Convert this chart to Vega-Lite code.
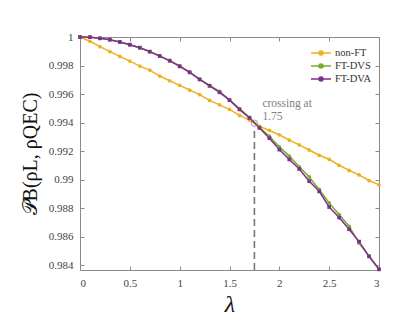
{
  "$schema": "https://vega.github.io/schema/vega-lite/v6.json",
  "width": 299,
  "height": 233,
  "autosize": {"type": "none"},
  "padding": {"left": 80, "top": 37, "right": 16, "bottom": 59},
  "background": "white",
  "datasets": {
    "curves": [
      {"lambda": 0.0, "series": "non-FT", "value": 1.0},
      {"lambda": 0.1, "series": "non-FT", "value": 0.9997},
      {"lambda": 0.2, "series": "non-FT", "value": 0.99932},
      {"lambda": 0.3, "series": "non-FT", "value": 0.99897},
      {"lambda": 0.4, "series": "non-FT", "value": 0.99864},
      {"lambda": 0.5, "series": "non-FT", "value": 0.99831},
      {"lambda": 0.6, "series": "non-FT", "value": 0.99796},
      {"lambda": 0.7, "series": "non-FT", "value": 0.99768},
      {"lambda": 0.8, "series": "non-FT", "value": 0.99726},
      {"lambda": 0.9, "series": "non-FT", "value": 0.99693},
      {"lambda": 1.0, "series": "non-FT", "value": 0.99661},
      {"lambda": 1.1, "series": "non-FT", "value": 0.99628},
      {"lambda": 1.2, "series": "non-FT", "value": 0.99596},
      {"lambda": 1.3, "series": "non-FT", "value": 0.99555},
      {"lambda": 1.4, "series": "non-FT", "value": 0.99524},
      {"lambda": 1.5, "series": "non-FT", "value": 0.99492},
      {"lambda": 1.6, "series": "non-FT", "value": 0.9945},
      {"lambda": 1.7, "series": "non-FT", "value": 0.99417},
      {"lambda": 1.8, "series": "non-FT", "value": 0.99375},
      {"lambda": 1.9, "series": "non-FT", "value": 0.99344},
      {"lambda": 2.0, "series": "non-FT", "value": 0.99314},
      {"lambda": 2.1, "series": "non-FT", "value": 0.99276},
      {"lambda": 2.2, "series": "non-FT", "value": 0.99243},
      {"lambda": 2.3, "series": "non-FT", "value": 0.99207},
      {"lambda": 2.4, "series": "non-FT", "value": 0.9917},
      {"lambda": 2.5, "series": "non-FT", "value": 0.99142},
      {"lambda": 2.6, "series": "non-FT", "value": 0.991},
      {"lambda": 2.7, "series": "non-FT", "value": 0.99064},
      {"lambda": 2.8, "series": "non-FT", "value": 0.99032},
      {"lambda": 2.9, "series": "non-FT", "value": 0.98993},
      {"lambda": 3.0, "series": "non-FT", "value": 0.98962},
      {"lambda": 0.0, "series": "FT-DVS", "value": 1.0},
      {"lambda": 0.1, "series": "FT-DVS", "value": 0.99999},
      {"lambda": 0.2, "series": "FT-DVS", "value": 0.99991},
      {"lambda": 0.3, "series": "FT-DVS", "value": 0.99981},
      {"lambda": 0.4, "series": "FT-DVS", "value": 0.99965},
      {"lambda": 0.5, "series": "FT-DVS", "value": 0.99946},
      {"lambda": 0.6, "series": "FT-DVS", "value": 0.99925},
      {"lambda": 0.7, "series": "FT-DVS", "value": 0.99898},
      {"lambda": 0.8, "series": "FT-DVS", "value": 0.99867},
      {"lambda": 0.9, "series": "FT-DVS", "value": 0.99836},
      {"lambda": 1.0, "series": "FT-DVS", "value": 0.99798},
      {"lambda": 1.1, "series": "FT-DVS", "value": 0.99755},
      {"lambda": 1.2, "series": "FT-DVS", "value": 0.99705},
      {"lambda": 1.3, "series": "FT-DVS", "value": 0.9966},
      {"lambda": 1.4, "series": "FT-DVS", "value": 0.99618},
      {"lambda": 1.5, "series": "FT-DVS", "value": 0.9956},
      {"lambda": 1.6, "series": "FT-DVS", "value": 0.99497},
      {"lambda": 1.7, "series": "FT-DVS", "value": 0.99436},
      {"lambda": 1.8, "series": "FT-DVS", "value": 0.99367},
      {"lambda": 1.9, "series": "FT-DVS", "value": 0.99304},
      {"lambda": 2.0, "series": "FT-DVS", "value": 0.99229},
      {"lambda": 2.1, "series": "FT-DVS", "value": 0.99164},
      {"lambda": 2.2, "series": "FT-DVS", "value": 0.99089},
      {"lambda": 2.3, "series": "FT-DVS", "value": 0.99018},
      {"lambda": 2.4, "series": "FT-DVS", "value": 0.9893},
      {"lambda": 2.5, "series": "FT-DVS", "value": 0.98836},
      {"lambda": 2.6, "series": "FT-DVS", "value": 0.98754},
      {"lambda": 2.7, "series": "FT-DVS", "value": 0.98672},
      {"lambda": 2.8, "series": "FT-DVS", "value": 0.98554},
      {"lambda": 2.9, "series": "FT-DVS", "value": 0.98461},
      {"lambda": 3.0, "series": "FT-DVS", "value": 0.9837},
      {"lambda": 0.0, "series": "FT-DVA", "value": 1.0},
      {"lambda": 0.1, "series": "FT-DVA", "value": 0.99999},
      {"lambda": 0.2, "series": "FT-DVA", "value": 0.99991},
      {"lambda": 0.3, "series": "FT-DVA", "value": 0.99981},
      {"lambda": 0.4, "series": "FT-DVA", "value": 0.99965},
      {"lambda": 0.5, "series": "FT-DVA", "value": 0.99946},
      {"lambda": 0.6, "series": "FT-DVA", "value": 0.99925},
      {"lambda": 0.7, "series": "FT-DVA", "value": 0.99897},
      {"lambda": 0.8, "series": "FT-DVA", "value": 0.99866},
      {"lambda": 0.9, "series": "FT-DVA", "value": 0.99833},
      {"lambda": 1.0, "series": "FT-DVA", "value": 0.99794},
      {"lambda": 1.1, "series": "FT-DVA", "value": 0.99752},
      {"lambda": 1.2, "series": "FT-DVA", "value": 0.99702},
      {"lambda": 1.3, "series": "FT-DVA", "value": 0.99657},
      {"lambda": 1.4, "series": "FT-DVA", "value": 0.99612},
      {"lambda": 1.5, "series": "FT-DVA", "value": 0.99557},
      {"lambda": 1.6, "series": "FT-DVA", "value": 0.99492},
      {"lambda": 1.7, "series": "FT-DVA", "value": 0.99432},
      {"lambda": 1.8, "series": "FT-DVA", "value": 0.99362},
      {"lambda": 1.9, "series": "FT-DVA", "value": 0.9929},
      {"lambda": 2.0, "series": "FT-DVA", "value": 0.9921},
      {"lambda": 2.1, "series": "FT-DVA", "value": 0.99141},
      {"lambda": 2.2, "series": "FT-DVA", "value": 0.99074},
      {"lambda": 2.3, "series": "FT-DVA", "value": 0.98988},
      {"lambda": 2.4, "series": "FT-DVA", "value": 0.98917},
      {"lambda": 2.5, "series": "FT-DVA", "value": 0.98807},
      {"lambda": 2.6, "series": "FT-DVA", "value": 0.98733},
      {"lambda": 2.7, "series": "FT-DVA", "value": 0.98651},
      {"lambda": 2.8, "series": "FT-DVA", "value": 0.98564},
      {"lambda": 2.9, "series": "FT-DVA", "value": 0.98461},
      {"lambda": 3.0, "series": "FT-DVA", "value": 0.9837}
    ],
    "crossing": [
      {"lambda": 1.75, "value": 0.99395, "bottom": 0.98365, "top": 0.9937}
    ],
    "notes": [
      {"lambda": 1.83, "value": 0.9953, "text": "crossing at"},
      {"lambda": 1.83, "value": 0.99439, "text": "1.75"}
    ]
  },
  "layer": [
    {
      "data": {"name": "crossing"},
      "mark": {"type": "rule", "color": "#777777", "strokeWidth": 1.6, "strokeDash": [7, 4]},
      "encoding": {
        "x": {"field": "lambda", "type": "quantitative", "scale": {"domain": [0, 3], "nice": false}, "axis": null},
        "y": {"field": "bottom", "type": "quantitative", "scale": {"domain": [0.98365, 1.0], "nice": false, "zero": false}, "axis": null},
        "y2": {"field": "top"}
      }
    },
    {
      "data": {"name": "curves"},
      "mark": {"type": "line", "strokeWidth": 1.5},
      "encoding": {
        "x": {"field": "lambda", "type": "quantitative",
              "axis": {"orient": "bottom", "title": "λ", "values": [0, 0.5, 1, 1.5, 2, 2.5, 3], "format": "~g",
                       "labelPadding": 11, "titlePadding": 4, "titleFontSize": 24, "titleFontStyle": "italic",
                       "labelFont": "Liberation Serif", "titleFont": "Liberation Serif"}},
        "y": {"field": "value", "type": "quantitative",
              "axis": {"orient": "left", "title": "𝒫B(ρL, ρQEC)",
                       "values": [0.984, 0.986, 0.988, 0.99, 0.992, 0.994, 0.996, 0.998, 1.0], "format": "~g",
                       "labelPadding": 11, "titlePadding": 8, "titleFontSize": 20,
                       "labelFont": "Liberation Serif", "titleFont": "Liberation Serif"}},
        "color": {"field": "series", "type": "nominal",
                  "scale": {"domain": ["non-FT", "FT-DVS", "FT-DVA"], "range": ["#EDB120", "#77AC30", "#7E2F8E"]},
                  "sort": ["non-FT", "FT-DVS", "FT-DVA"],
                  "legend": {"orient": "none", "legendX": 240, "legendY": 10, "title": null,
                             "symbolType": "M-3,0L1,0M-1.4,0A0.4,0.4 0 1,1 -0.6,0A0.4,0.4 0 1,1 -1.4,0",
                             "symbolSize": 100, "symbolStrokeWidth": 1.5, "rowPadding": 1,
                             "labelFont": "Liberation Serif", "labelFontSize": 10.5, "labelColor": "#333333",
                             "labelFontWeight": "normal",
                             "labelOffset": 3, "padding": 0,
                             "encode": {"symbols": {"update": {"fill": {"scale": "color", "field": "value"}}}}}}
      }
    },
    {
      "data": {"name": "curves"},
      "mark": {"type": "point", "filled": true, "size": 14, "opacity": 1},
      "encoding": {
        "x": {"field": "lambda", "type": "quantitative",
              "axis": {"orient": "top", "title": null, "labels": false, "values": [0, 0.5, 1, 1.5, 2, 2.5, 3]}},
        "y": {"field": "value", "type": "quantitative",
              "axis": {"orient": "right", "title": null, "labels": false,
                       "values": [0.984, 0.986, 0.988, 0.99, 0.992, 0.994, 0.996, 0.998, 1.0]}},
        "color": {"field": "series", "type": "nominal", "legend": null},
        "shape": {"field": "series", "type": "nominal",
                  "scale": {"domain": ["non-FT", "FT-DVS", "FT-DVA"], "range": ["circle", "circle", "square"]}, "legend": null}
      }
    },
    {
      "data": {"name": "crossing"},
      "mark": {"type": "point", "filled": false, "size": 40, "color": "#777777", "strokeWidth": 1},
      "encoding": {
        "x": {"field": "lambda", "type": "quantitative", "axis": null},
        "y": {"field": "value", "type": "quantitative", "axis": null}
      }
    },
    {
      "data": {"name": "notes"},
      "mark": {"type": "text", "align": "left", "baseline": "middle", "font": "Liberation Serif", "fontSize": 11.5, "color": "#808080"},
      "encoding": {
        "x": {"field": "lambda", "type": "quantitative", "axis": null},
        "y": {"field": "value", "type": "quantitative", "axis": null},
        "text": {"field": "text"}
      }
    }
  ],
  "resolve": {"axis": {"x": "independent", "y": "independent"}, "legend": {"color": "independent"}},
  "config": {
    "view": {"stroke": null},
    "axis": {
      "grid": false,
      "domainColor": "#8a8a8a",
      "domainWidth": 1,
      "tickColor": "#8a8a8a",
      "tickSize": -4,
      "labelFont": "Liberation Serif",
      "labelFontSize": 11,
      "labelColor": "#444444",
      "titleFont": "Liberation Serif",
      "titleFontWeight": "normal",
      "titleColor": "#111111"
    },
    "legend": {"labelFont": "Liberation Serif"}
  }
}
